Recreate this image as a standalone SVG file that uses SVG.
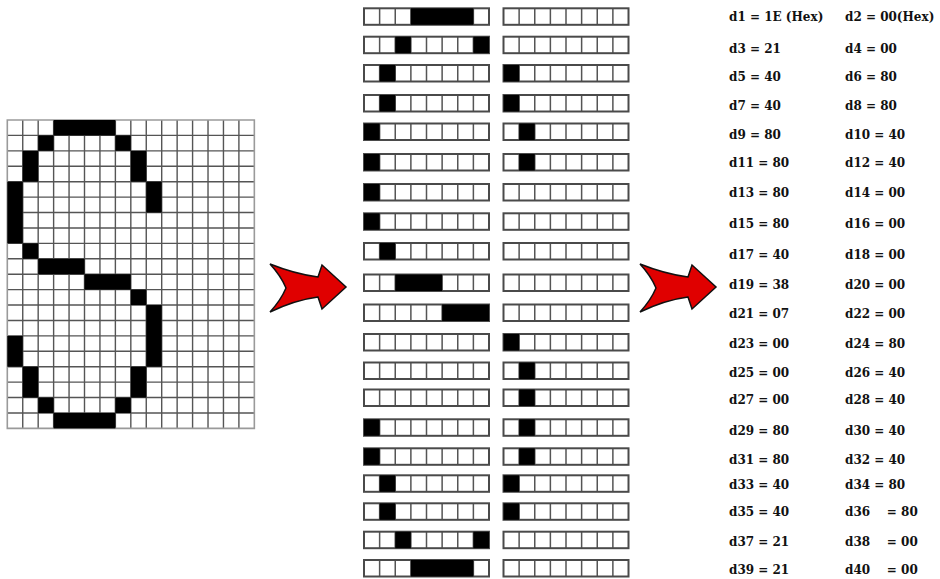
<svg xmlns="http://www.w3.org/2000/svg" xmlns:xlink="http://www.w3.org/1999/xlink" width="940" height="579" viewBox="0 0 940 579">
<style>
.lbl{font-family:"DejaVu Serif","Liberation Serif",serif;font-weight:bold;font-size:12px;fill:#111;white-space:pre}
.blk{fill:#000}
.gl{fill:none;stroke:#555;stroke-width:1.4;vector-effect:non-scaling-stroke}
.gb{fill:none;stroke:#9a9a9a;stroke-width:1.6;vector-effect:non-scaling-stroke}
.bo{fill:none;stroke:#4a4a4a;stroke-width:2}
.bi{fill:none;stroke:#555;stroke-width:1.5}
.arr{fill:#e00000;stroke:#111;stroke-width:1.5;stroke-linejoin:miter}
</style>
<defs>
<g id="box">
<path class="bi" d="M15.625 0v16.5M31.25 0v16.5M46.875 0v16.5M62.5 0v16.5M78.125 0v16.5M93.75 0v16.5M109.375 0v16.5"/>
<rect class="bo" x="0" y="0" width="125" height="16.5"/>
</g>
<path id="arrowShape" class="arr" d="M270,264 Q295,274 318,277 L322,265 L346,287 L322,309 L318,297 Q295,300 270,312 Q281,300 286,288 Q281,276 270,264 Z"/>
</defs>
<rect width="940" height="579" fill="#fff"/>

<g id="bitmap-grid" transform="translate(7.3,120) scale(15.44,15.42)">
<path class="gl" d="M1 0v20M2 0v20M3 0v20M4 0v20M5 0v20M6 0v20M7 0v20M8 0v20M9 0v20M10 0v20M11 0v20M12 0v20M13 0v20M14 0v20M15 0v20M0 1h16M0 2h16M0 3h16M0 4h16M0 5h16M0 6h16M0 7h16M0 8h16M0 9h16M0 10h16M0 11h16M0 12h16M0 13h16M0 14h16M0 15h16M0 16h16M0 17h16M0 18h16M0 19h16"/>
<rect class="gb" x="0" y="0" width="16" height="20"/>
<rect class="blk" x="3" y="0" width="4" height="1"/>
<rect class="blk" x="2" y="1" width="1" height="1"/>
<rect class="blk" x="7" y="1" width="1" height="1"/>
<rect class="blk" x="1" y="2" width="1" height="2"/>
<rect class="blk" x="8" y="2" width="1" height="2"/>
<rect class="blk" x="0" y="4" width="1" height="4"/>
<rect class="blk" x="9" y="4" width="1" height="2"/>
<rect class="blk" x="1" y="8" width="1" height="1"/>
<rect class="blk" x="2" y="9" width="3" height="1"/>
<rect class="blk" x="5" y="10" width="3" height="1"/>
<rect class="blk" x="8" y="11" width="1" height="1"/>
<rect class="blk" x="9" y="12" width="1" height="4"/>
<rect class="blk" x="0" y="14" width="1" height="2"/>
<rect class="blk" x="1" y="16" width="1" height="2"/>
<rect class="blk" x="8" y="16" width="1" height="2"/>
<rect class="blk" x="2" y="18" width="1" height="1"/>
<rect class="blk" x="7" y="18" width="1" height="1"/>
<rect class="blk" x="3" y="19" width="4" height="1"/>
</g>

<g id="byte-rows">
<g id="row1" transform="translate(0,8.3)"><use xlink:href="#box" x="364"/><use xlink:href="#box" x="503.5"/><rect class="blk" x="410.875" y="0" width="62.5" height="16.5"/></g>
<g id="row2" transform="translate(0,36.7)"><use xlink:href="#box" x="364"/><use xlink:href="#box" x="503.5"/><rect class="blk" x="395.25" y="0" width="15.625" height="16.5"/><rect class="blk" x="473.375" y="0" width="15.625" height="16.5"/></g>
<g id="row3" transform="translate(0,65)"><use xlink:href="#box" x="364"/><use xlink:href="#box" x="503.5"/><rect class="blk" x="379.625" y="0" width="15.625" height="16.5"/><rect class="blk" x="503.5" y="0" width="15.625" height="16.5"/></g>
<g id="row4" transform="translate(0,95)"><use xlink:href="#box" x="364"/><use xlink:href="#box" x="503.5"/><rect class="blk" x="379.625" y="0" width="15.625" height="16.5"/><rect class="blk" x="503.5" y="0" width="15.625" height="16.5"/></g>
<g id="row5" transform="translate(0,123.5)"><use xlink:href="#box" x="364"/><use xlink:href="#box" x="503.5"/><rect class="blk" x="364" y="0" width="15.625" height="16.5"/><rect class="blk" x="519.125" y="0" width="15.625" height="16.5"/></g>
<g id="row6" transform="translate(0,154)"><use xlink:href="#box" x="364"/><use xlink:href="#box" x="503.5"/><rect class="blk" x="364" y="0" width="15.625" height="16.5"/><rect class="blk" x="519.125" y="0" width="15.625" height="16.5"/></g>
<g id="row7" transform="translate(0,184)"><use xlink:href="#box" x="364"/><use xlink:href="#box" x="503.5"/><rect class="blk" x="364" y="0" width="15.625" height="16.5"/></g>
<g id="row8" transform="translate(0,213.3)"><use xlink:href="#box" x="364"/><use xlink:href="#box" x="503.5"/><rect class="blk" x="364" y="0" width="15.625" height="16.5"/></g>
<g id="row9" transform="translate(0,243)"><use xlink:href="#box" x="364"/><use xlink:href="#box" x="503.5"/><rect class="blk" x="379.625" y="0" width="15.625" height="16.5"/></g>
<g id="row10" transform="translate(0,274.5)"><use xlink:href="#box" x="364"/><use xlink:href="#box" x="503.5"/><rect class="blk" x="395.25" y="0" width="46.875" height="16.5"/></g>
<g id="row11" transform="translate(0,304.5)"><use xlink:href="#box" x="364"/><use xlink:href="#box" x="503.5"/><rect class="blk" x="442.125" y="0" width="46.875" height="16.5"/></g>
<g id="row12" transform="translate(0,334)"><use xlink:href="#box" x="364"/><use xlink:href="#box" x="503.5"/><rect class="blk" x="503.5" y="0" width="15.625" height="16.5"/></g>
<g id="row13" transform="translate(0,362.5)"><use xlink:href="#box" x="364"/><use xlink:href="#box" x="503.5"/><rect class="blk" x="519.125" y="0" width="15.625" height="16.5"/></g>
<g id="row14" transform="translate(0,389.5)"><use xlink:href="#box" x="364"/><use xlink:href="#box" x="503.5"/><rect class="blk" x="519.125" y="0" width="15.625" height="16.5"/></g>
<g id="row15" transform="translate(0,419.3)"><use xlink:href="#box" x="364"/><use xlink:href="#box" x="503.5"/><rect class="blk" x="364" y="0" width="15.625" height="16.5"/><rect class="blk" x="519.125" y="0" width="15.625" height="16.5"/></g>
<g id="row16" transform="translate(0,448.3)"><use xlink:href="#box" x="364"/><use xlink:href="#box" x="503.5"/><rect class="blk" x="364" y="0" width="15.625" height="16.5"/><rect class="blk" x="519.125" y="0" width="15.625" height="16.5"/></g>
<g id="row17" transform="translate(0,475.3)"><use xlink:href="#box" x="364"/><use xlink:href="#box" x="503.5"/><rect class="blk" x="379.625" y="0" width="15.625" height="16.5"/><rect class="blk" x="503.5" y="0" width="15.625" height="16.5"/></g>
<g id="row18" transform="translate(0,503.3)"><use xlink:href="#box" x="364"/><use xlink:href="#box" x="503.5"/><rect class="blk" x="379.625" y="0" width="15.625" height="16.5"/><rect class="blk" x="503.5" y="0" width="15.625" height="16.5"/></g>
<g id="row19" transform="translate(0,531.7)"><use xlink:href="#box" x="364"/><use xlink:href="#box" x="503.5"/><rect class="blk" x="395.25" y="0" width="15.625" height="16.5"/><rect class="blk" x="473.375" y="0" width="15.625" height="16.5"/></g>
<g id="row20" transform="translate(0,560)"><use xlink:href="#box" x="364"/><use xlink:href="#box" x="503.5"/><rect class="blk" x="410.875" y="0" width="62.5" height="16.5"/></g>
</g>

<g id="labels">
<text class="lbl" x="729" y="21.4">d1 = 1E (Hex)</text><text class="lbl" x="845" y="21.4">d2 = 00(Hex)</text>
<text class="lbl" x="729" y="52.7">d3 = 21</text><text class="lbl" x="845" y="52.7">d4 = 00</text>
<text class="lbl" x="729" y="81.1">d5 = 40</text><text class="lbl" x="845" y="81.1">d6 = 80</text>
<text class="lbl" x="729" y="110.4">d7 = 40</text><text class="lbl" x="845" y="110.4">d8 = 80</text>
<text class="lbl" x="729" y="139.4">d9 = 80</text><text class="lbl" x="845" y="139.4">d10 = 40</text>
<text class="lbl" x="729" y="167.4">d11 = 80</text><text class="lbl" x="845" y="167.4">d12 = 40</text>
<text class="lbl" x="729" y="197.1">d13 = 80</text><text class="lbl" x="845" y="197.1">d14 = 00</text>
<text class="lbl" x="729" y="227.7">d15 = 80</text><text class="lbl" x="845" y="227.7">d16 = 00</text>
<text class="lbl" x="729" y="258.7">d17 = 40</text><text class="lbl" x="845" y="258.7">d18 = 00</text>
<text class="lbl" x="729" y="288.7">d19 = 38</text><text class="lbl" x="845" y="288.7">d20 = 00</text>
<text class="lbl" x="729" y="318.4">d21 = 07</text><text class="lbl" x="845" y="318.4">d22 = 00</text>
<text class="lbl" x="729" y="347.7">d23 = 00</text><text class="lbl" x="845" y="347.7">d24 = 80</text>
<text class="lbl" x="729" y="376.7">d25 = 00</text><text class="lbl" x="845" y="376.7">d26 = 40</text>
<text class="lbl" x="729" y="403.7">d27 = 00</text><text class="lbl" x="845" y="403.7">d28 = 40</text>
<text class="lbl" x="729" y="435.1">d29 = 80</text><text class="lbl" x="845" y="435.1">d30 = 40</text>
<text class="lbl" x="729" y="463.7">d31 = 80</text><text class="lbl" x="845" y="463.7">d32 = 40</text>
<text class="lbl" x="729" y="489.4">d33 = 40</text><text class="lbl" x="845" y="489.4">d34 = 80</text>
<text class="lbl" x="729" y="516.1">d35 = 40</text><text class="lbl" x="845" y="516.1">d36    = 80</text>
<text class="lbl" x="729" y="546.1">d37 = 21</text><text class="lbl" x="845" y="546.1">d38    = 00</text>
<text class="lbl" x="729" y="574.4">d39 = 21</text><text class="lbl" x="845" y="574.4">d40    = 00</text>
</g>

<g id="connectors">
<use xlink:href="#arrowShape"/>
<use xlink:href="#arrowShape" transform="translate(370,0)"/>
</g>
</svg>
